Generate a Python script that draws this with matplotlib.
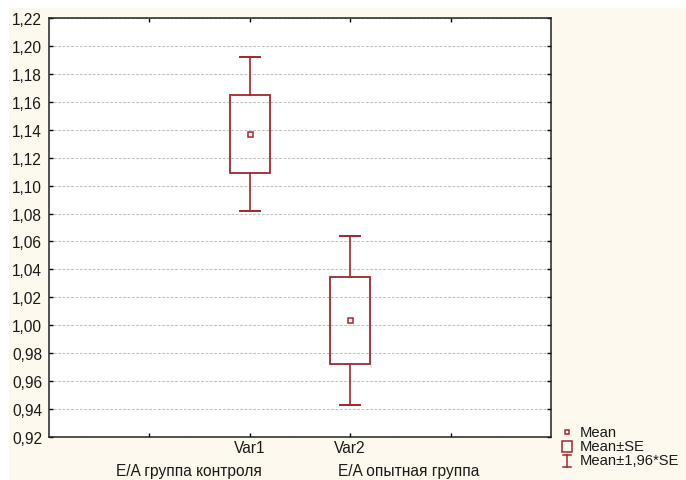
import matplotlib
matplotlib.use("Agg")
import matplotlib.pyplot as plt
from matplotlib.patches import Rectangle
from matplotlib.lines import Line2D
from matplotlib.ticker import FuncFormatter, MultipleLocator

plt.rcParams['font.family'] = ['Liberation Sans', 'DejaVu Sans']

# Data: group means and standard errors
categories = ["Var1", "Var2"]
group_titles = ["E/A группа контроля", "E/A опытная группа"]
means = [1.137, 1.0035]
se = [0.0282, 0.0310]
positions = [2, 3]

box_color = "#a0282c"
bg_color = "#fef9ee"
text_color = "#1a1a1a"
fs = 11.2

fig = plt.figure(figsize=(6.86, 4.81), dpi=100)
fig.patch.set_facecolor("white")
fig.patches.append(Rectangle((9 / 686, 0), 1 - 9 / 686, (481 - 9) / 481,
                             transform=fig.transFigure, facecolor=bg_color,
                             edgecolor="none", zorder=-10))

ax = fig.add_axes([49 / 686, 43 / 481, 502 / 686, 419 / 481])
ax.set_facecolor("white")

box_w = 0.4
cap_w = 0.2
for x, m, s in zip(positions, means, se):
    lo, hi = m - s, m + s
    wlo, whi = m - 1.96 * s, m + 1.96 * s
    ax.add_patch(Rectangle((x - box_w / 2, lo), box_w, hi - lo, fill=False,
                           edgecolor=box_color, linewidth=1.3, zorder=3))
    ax.plot([x, x], [hi, whi], color=box_color, linewidth=1.2, zorder=3)
    ax.plot([x, x], [wlo, lo], color=box_color, linewidth=1.2, zorder=3)
    ax.plot([x - cap_w / 2, x + cap_w / 2], [whi, whi], color=box_color, linewidth=1.4, zorder=3)
    ax.plot([x - cap_w / 2, x + cap_w / 2], [wlo, wlo], color=box_color, linewidth=1.4, zorder=3)
    ax.plot([x], [m], marker="s", markersize=3.6, markerfacecolor="white",
            markeredgecolor=box_color, markeredgewidth=1.1, zorder=4)

ax.set_xlim(0, 5)
ax.set_ylim(0.92, 1.22)
ax.yaxis.set_major_locator(MultipleLocator(0.02))
ax.yaxis.set_major_formatter(FuncFormatter(lambda v, p: f"{v:.2f}".replace(".", ",")))
ax.set_xticks([1, 2, 3, 4])
ax.set_xticklabels([""] + categories + [""])

ax.grid(axis="y", color="#c4c4c4", linestyle=(0, (2.5, 1.4)), linewidth=0.8)
ax.set_axisbelow(True)
ax.tick_params(axis="both", direction="in", length=3, width=1, color="black",
               labelsize=fs, labelcolor=text_color)
ax.tick_params(axis="y", right=True, pad=5)
ax.tick_params(axis="x", top=True, pad=2)
for sp in ax.spines.values():
    sp.set_linewidth(1.1)
    sp.set_color("#222222")

# Group titles under the category labels
fig.text(262 / 686, 1 - 472 / 481, group_titles[0], ha="right", va="center",
         fontsize=fs, color=text_color)
fig.text(338 / 686, 1 - 472 / 481, group_titles[1], ha="left", va="center",
         fontsize=fs, color=text_color)

# Legend drawn in figure pixel space
def px(x, y):
    return x / 686, 1 - y / 481

sym_x = 567
rows_y = [433, 447, 461.5]
labels = ["Mean", "Mean±SE", "Mean±1,96*SE"]
for y, lab in zip(rows_y, labels):
    fig.text(*px(580, y), lab, ha="left", va="center", fontsize=10.6, color=text_color)

fig.add_artist(Line2D([px(sym_x, 0)[0]], [px(0, rows_y[0])[1]], marker="s", markersize=3.4,
                      markerfacecolor="white", markeredgecolor=box_color,
                      markeredgewidth=1.1, transform=fig.transFigure))
fig.add_artist(Rectangle(px(562, 453), 10 / 686, 11 / 481, fill=False,
                         edgecolor=box_color, linewidth=1.1, transform=fig.transFigure))
y0, y1 = 455.5, 467.5
for seg in ([(sym_x, y0), (sym_x, y1)], [(sym_x - 4, y0), (sym_x + 4, y0)],
            [(sym_x - 4, y1), (sym_x + 4, y1)]):
    (xa, ya), (xb, yb) = seg
    pa, pb = px(xa, ya), px(xb, yb)
    fig.add_artist(Line2D([pa[0], pb[0]], [pa[1], pb[1]], color=box_color,
                          linewidth=1.1, transform=fig.transFigure))

fig.savefig("out.png", dpi=100, facecolor=fig.get_facecolor())
